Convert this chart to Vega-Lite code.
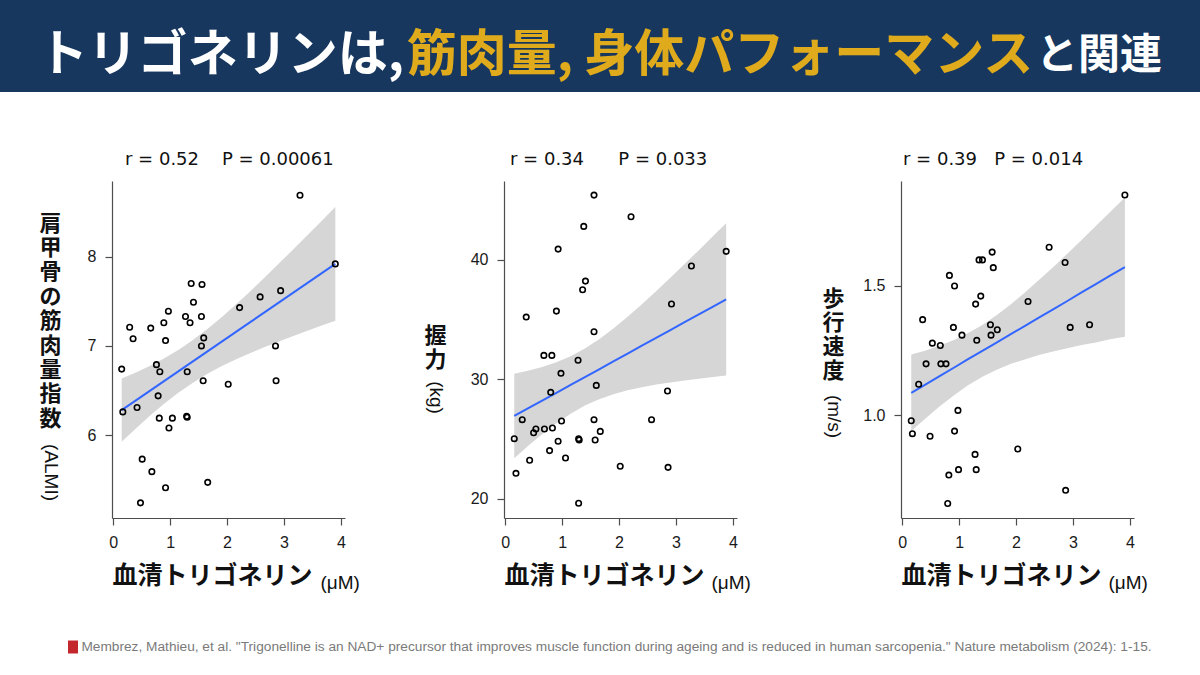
{
  "$schema": "https://vega.github.io/schema/vega-lite/v6.json",
  "padding": 0,
  "background": "white",
  "spacing": 59,
  "datasets": {
    "p1": [
      {"x": 0.15, "y": 6.74}, {"x": 0.17, "y": 6.26}, {"x": 0.29, "y": 7.21}, {"x": 0.35, "y": 7.08},
      {"x": 0.42, "y": 6.31}, {"x": 0.48, "y": 5.24}, {"x": 0.51, "y": 5.73}, {"x": 0.66, "y": 7.2},
      {"x": 0.68, "y": 5.59}, {"x": 0.76, "y": 6.79}, {"x": 0.79, "y": 6.44}, {"x": 0.81, "y": 6.19},
      {"x": 0.82, "y": 6.71}, {"x": 0.89, "y": 7.26}, {"x": 0.92, "y": 7.06}, {"x": 0.92, "y": 5.41},
      {"x": 0.97, "y": 7.39}, {"x": 0.98, "y": 6.08}, {"x": 1.04, "y": 6.19}, {"x": 1.27, "y": 7.33},
      {"x": 1.29, "y": 6.21}, {"x": 1.3, "y": 6.2}, {"x": 1.3, "y": 6.71}, {"x": 1.35, "y": 7.26},
      {"x": 1.37, "y": 7.7}, {"x": 1.41, "y": 7.49}, {"x": 1.55, "y": 7.33}, {"x": 1.55, "y": 7.0},
      {"x": 1.56, "y": 7.69}, {"x": 1.58, "y": 6.61}, {"x": 1.59, "y": 7.09}, {"x": 1.66, "y": 5.47},
      {"x": 2.02, "y": 6.57}, {"x": 2.22, "y": 7.43}, {"x": 2.58, "y": 7.55}, {"x": 2.85, "y": 7.0},
      {"x": 2.86, "y": 6.61}, {"x": 2.94, "y": 7.62}, {"x": 3.28, "y": 8.69}, {"x": 3.9, "y": 7.92}
    ],
    "p2": [
      {"x": 0.16, "y": 25.02}, {"x": 0.19, "y": 22.12}, {"x": 0.3, "y": 26.61}, {"x": 0.37, "y": 35.2},
      {"x": 0.43, "y": 23.21}, {"x": 0.5, "y": 25.52}, {"x": 0.54, "y": 25.83}, {"x": 0.68, "y": 31.99},
      {"x": 0.69, "y": 25.83}, {"x": 0.78, "y": 24.02}, {"x": 0.8, "y": 28.9}, {"x": 0.82, "y": 31.99},
      {"x": 0.83, "y": 25.91}, {"x": 0.9, "y": 35.7}, {"x": 0.93, "y": 40.89}, {"x": 0.93, "y": 24.8},
      {"x": 0.98, "y": 30.49}, {"x": 0.99, "y": 26.5}, {"x": 1.06, "y": 23.4}, {"x": 1.28, "y": 31.58},
      {"x": 1.29, "y": 25.02}, {"x": 1.3, "y": 24.91}, {"x": 1.29, "y": 19.61}, {"x": 1.36, "y": 37.49},
      {"x": 1.38, "y": 42.79}, {"x": 1.41, "y": 38.21}, {"x": 1.56, "y": 45.41}, {"x": 1.56, "y": 33.97},
      {"x": 1.56, "y": 26.61}, {"x": 1.58, "y": 24.91}, {"x": 1.6, "y": 29.48}, {"x": 1.67, "y": 25.63},
      {"x": 2.02, "y": 22.71}, {"x": 2.21, "y": 43.6}, {"x": 2.57, "y": 26.61}, {"x": 2.85, "y": 29.01},
      {"x": 2.86, "y": 22.62}, {"x": 2.92, "y": 36.29}, {"x": 3.27, "y": 39.47}, {"x": 3.88, "y": 40.7}
    ],
    "p3": [
      {"x": 0.16, "y": 0.978}, {"x": 0.18, "y": 0.928}, {"x": 0.29, "y": 1.119}, {"x": 0.36, "y": 1.369},
      {"x": 0.42, "y": 1.198}, {"x": 0.49, "y": 0.918}, {"x": 0.53, "y": 1.278}, {"x": 0.67, "y": 1.269},
      {"x": 0.68, "y": 1.198}, {"x": 0.77, "y": 1.198}, {"x": 0.8, "y": 0.658}, {"x": 0.82, "y": 0.768},
      {"x": 0.83, "y": 1.54}, {"x": 0.9, "y": 1.339}, {"x": 0.92, "y": 1.499}, {"x": 0.92, "y": 0.938},
      {"x": 0.98, "y": 1.018}, {"x": 0.99, "y": 0.789}, {"x": 1.05, "y": 1.309}, {"x": 1.28, "y": 0.848},
      {"x": 1.29, "y": 1.429}, {"x": 1.3, "y": 0.789}, {"x": 1.31, "y": 1.289}, {"x": 1.35, "y": 1.6},
      {"x": 1.38, "y": 1.46}, {"x": 1.41, "y": 1.6}, {"x": 1.55, "y": 1.349}, {"x": 1.56, "y": 1.309},
      {"x": 1.58, "y": 1.63}, {"x": 1.6, "y": 1.57}, {"x": 1.67, "y": 1.33}, {"x": 2.03, "y": 0.869},
      {"x": 2.21, "y": 1.439}, {"x": 2.58, "y": 1.649}, {"x": 2.86, "y": 1.59}, {"x": 2.87, "y": 0.709},
      {"x": 2.95, "y": 1.339}, {"x": 3.29, "y": 1.349}, {"x": 3.91, "y": 1.851}
    ],
    "b1": [
      {"x": 0.15, "fit": 6.28, "lo": 5.926, "hi": 6.634}, {"x": 0.4, "fit": 6.389, "lo": 6.075, "hi": 6.703},
      {"x": 0.65, "fit": 6.499, "lo": 6.219, "hi": 6.779}, {"x": 0.9, "fit": 6.608, "lo": 6.354, "hi": 6.862},
      {"x": 1.15, "fit": 6.717, "lo": 6.477, "hi": 6.957}, {"x": 1.4, "fit": 6.827, "lo": 6.588, "hi": 7.066},
      {"x": 1.65, "fit": 6.936, "lo": 6.686, "hi": 7.187}, {"x": 1.9, "fit": 7.045, "lo": 6.771, "hi": 7.319},
      {"x": 2.15, "fit": 7.155, "lo": 6.849, "hi": 7.461}, {"x": 2.4, "fit": 7.264, "lo": 6.919, "hi": 7.609},
      {"x": 2.65, "fit": 7.373, "lo": 6.984, "hi": 7.762}, {"x": 2.9, "fit": 7.483, "lo": 7.048, "hi": 7.918},
      {"x": 3.15, "fit": 7.592, "lo": 7.108, "hi": 8.076}, {"x": 3.4, "fit": 7.701, "lo": 7.167, "hi": 8.235},
      {"x": 3.65, "fit": 7.811, "lo": 7.225, "hi": 8.397}, {"x": 3.9, "fit": 7.92, "lo": 7.282, "hi": 8.558}
    ],
    "b2": [
      {"x": 0.16, "fit": 26.92, "lo": 23.38, "hi": 30.46}, {"x": 0.4, "fit": 27.55, "lo": 24.4, "hi": 30.7},
      {"x": 0.65, "fit": 28.21, "lo": 25.4, "hi": 31.02}, {"x": 0.9, "fit": 28.86, "lo": 26.31, "hi": 31.41},
      {"x": 1.15, "fit": 29.52, "lo": 27.11, "hi": 31.93}, {"x": 1.4, "fit": 30.18, "lo": 27.79, "hi": 32.57},
      {"x": 1.65, "fit": 30.83, "lo": 28.32, "hi": 33.35}, {"x": 1.9, "fit": 31.49, "lo": 28.74, "hi": 34.24},
      {"x": 2.15, "fit": 32.15, "lo": 29.07, "hi": 35.23}, {"x": 2.4, "fit": 32.8, "lo": 29.33, "hi": 36.27},
      {"x": 2.65, "fit": 33.46, "lo": 29.55, "hi": 37.37}, {"x": 2.9, "fit": 34.11, "lo": 29.73, "hi": 38.49},
      {"x": 3.15, "fit": 34.77, "lo": 29.9, "hi": 39.64}, {"x": 3.4, "fit": 35.42, "lo": 30.04, "hi": 40.8},
      {"x": 3.65, "fit": 36.08, "lo": 30.18, "hi": 41.98}, {"x": 3.88, "fit": 36.68, "lo": 30.3, "hi": 43.06}
    ],
    "b3": [
      {"x": 0.16, "fit": 1.086, "lo": 0.938, "hi": 1.234}, {"x": 0.4, "fit": 1.117, "lo": 0.985, "hi": 1.249},
      {"x": 0.65, "fit": 1.15, "lo": 1.032, "hi": 1.268}, {"x": 0.9, "fit": 1.182, "lo": 1.075, "hi": 1.289},
      {"x": 1.15, "fit": 1.215, "lo": 1.114, "hi": 1.316}, {"x": 1.4, "fit": 1.247, "lo": 1.147, "hi": 1.347},
      {"x": 1.65, "fit": 1.279, "lo": 1.174, "hi": 1.385}, {"x": 1.9, "fit": 1.312, "lo": 1.197, "hi": 1.427},
      {"x": 2.15, "fit": 1.344, "lo": 1.215, "hi": 1.473}, {"x": 2.4, "fit": 1.377, "lo": 1.232, "hi": 1.522},
      {"x": 2.65, "fit": 1.409, "lo": 1.246, "hi": 1.572}, {"x": 2.9, "fit": 1.441, "lo": 1.258, "hi": 1.624},
      {"x": 3.15, "fit": 1.474, "lo": 1.271, "hi": 1.677}, {"x": 3.4, "fit": 1.506, "lo": 1.281, "hi": 1.731},
      {"x": 3.65, "fit": 1.539, "lo": 1.293, "hi": 1.785}, {"x": 3.91, "fit": 1.572, "lo": 1.303, "hi": 1.841}
    ]
  },
  "vconcat": [
    {
      "spacing": 0,
      "vconcat": [
        {"width": 1200, "height": 20, "view": {"fill": "#17375e"}, "data": {"values": [{}]}, "mark": {"type": "text", "text": ""}},
        {
          "spacing": 0,
          "bounds": "flush",
          "hconcat": [
            {"width": 38, "height": 72, "view": {"fill": "#17375e"}, "data": {"values": [{}]}, "mark": {"type": "text", "text": ""}},
            {"width": 366, "height": 72, "view": {"fill": "#17375e"}, "data": {"values": [{"t": "トリゴネリンは,"}]},
             "mark": {"type": "text", "font": "Noto Sans CJK JP", "fontWeight": "bold", "fontSize": 50, "color": "#ffffff"},
             "encoding": {"text": {"field": "t"}}},
            {"width": 632, "height": 72, "view": {"fill": "#17375e"}, "data": {"values": [{"t": "筋肉量, 身体パフォーマンス"}]},
             "mark": {"type": "text", "font": "Noto Sans CJK JP", "fontWeight": "bold", "fontSize": 50, "color": "#dfab1c"},
             "encoding": {"text": {"field": "t"}}},
            {"width": 126, "height": 72, "view": {"fill": "#17375e"}, "data": {"values": [{"t": "と関連"}]},
             "mark": {"type": "text", "font": "Noto Sans CJK JP", "fontWeight": "bold", "fontSize": 42, "color": "#ffffff"},
             "encoding": {"text": {"field": "t"}}},
            {"width": 38, "height": 72, "view": {"fill": "#17375e"}, "data": {"values": [{}]}, "mark": {"type": "text", "text": ""}}
          ]
        }
      ]
    },
    {
      "spacing": 45,
      "vconcat": [
        {
          "spacing": 0,
          "bounds": "flush",
          "hconcat": [
            {"width": 112, "height": 337, "data": {"values": [{}]}, "mark": {"type": "text", "text": ""}},
            {
              "width": 233, "height": 337,
              "title": {"text": "r = 0.52\u00a0\u00a0\u00a0\u00a0P = 0.00061", "dx": 13},
              "resolve": {"axis": {"x": "independent", "y": "independent"}},
              "layer": [
                {"data": {"name": "b1"}, "mark": {"type": "area", "color": "#d6d6d6"},
                 "encoding": {
                   "x": {"field": "x", "type": "quantitative", "scale": {"domain": [-0.02, 4.07], "nice": false, "zero": false},
                         "axis": {"values": [0, 1, 2, 3, 4], "title": "血清トリゴネリン", "titleFont": "Noto Sans CJK JP", "titleFontSize": 25, "titleFontWeight": "bold", "titleAnchor": "start", "titleAlign": "left", "titlePadding": 13}},
                   "y": {"field": "lo", "type": "quantitative", "scale": {"domain": [5.07, 8.85], "nice": false, "zero": false},
                         "axis": {"values": [6, 7, 8], "format": "d", "title": ["肩", "甲", "骨", "の", "筋", "肉", "量", "指", "数"], "titleAngle": 0, "titleAlign": "center", "titleBaseline": "top", "titleX": -62, "titleY": 32, "titleLineHeight": 24.4, "titleFont": "Noto Sans CJK JP", "titleFontSize": 22, "titleFontWeight": "bold"}},
                   "y2": {"field": "hi"}
                 }},
                {"data": {"name": "b1"}, "mark": {"type": "line", "color": "#3366ff", "strokeWidth": 2},
                 "encoding": {
                   "x": {"field": "x", "type": "quantitative",
                         "axis": {"orient": "bottom", "title": "(μM)", "titleX": 208, "titleY": 64, "titleAlign": "left", "titleBaseline": "middle", "titleFont": "Liberation Sans", "titleFontSize": 19, "titleFontWeight": "normal", "labels": false, "ticks": false, "domain": false}},
                   "y": {"field": "fit", "type": "quantitative",
                         "axis": {"orient": "left", "title": "(ALMI)", "titleAngle": 90, "titleX": -62, "titleY": 291, "titleAlign": "center", "titleBaseline": "middle", "titleFont": "Liberation Sans", "titleFontSize": 19, "titleFontWeight": "normal", "labels": false, "ticks": false, "domain": false}}
                 }},
                {"data": {"name": "p1"}, "mark": {"type": "point", "shape": "circle", "filled": false, "color": "#000000", "size": 30, "strokeWidth": 1.6, "opacity": 1},
                 "encoding": {
                   "x": {"field": "x", "type": "quantitative", "axis": null},
                   "y": {"field": "y", "type": "quantitative", "axis": null}
                 }}
              ]
            },
            {"width": 159, "height": 337, "data": {"values": [{}]}, "mark": {"type": "text", "text": ""}},
            {
              "width": 233, "height": 337,
              "title": {"text": "r = 0.34\u00a0\u00a0\u00a0\u00a0\u00a0\u00a0P = 0.033", "dx": 6},
              "resolve": {"axis": {"x": "independent", "y": "independent"}},
              "layer": [
                {"data": {"name": "b2"}, "mark": {"type": "area", "color": "#d6d6d6"},
                 "encoding": {
                   "x": {"field": "x", "type": "quantitative", "scale": {"domain": [-0.02, 4.07], "nice": false, "zero": false},
                         "axis": {"values": [0, 1, 2, 3, 4], "title": "血清トリゴネリン", "titleFont": "Noto Sans CJK JP", "titleFontSize": 25, "titleFontWeight": "bold", "titleAnchor": "start", "titleAlign": "left", "titlePadding": 13}},
                   "y": {"field": "lo", "type": "quantitative", "scale": {"domain": [18.38, 46.59], "nice": false, "zero": false},
                         "axis": {"values": [20, 30, 40], "format": "d", "title": ["握", "力"], "titleAngle": 0, "titleAlign": "center", "titleBaseline": "top", "titleX": -69, "titleY": 144, "titleLineHeight": 24.2, "titleFont": "Noto Sans CJK JP", "titleFontSize": 22, "titleFontWeight": "bold"}},
                   "y2": {"field": "hi"}
                 }},
                {"data": {"name": "b2"}, "mark": {"type": "line", "color": "#3366ff", "strokeWidth": 2},
                 "encoding": {
                   "x": {"field": "x", "type": "quantitative",
                         "axis": {"orient": "bottom", "title": "(μM)", "titleX": 207, "titleY": 64, "titleAlign": "left", "titleBaseline": "middle", "titleFont": "Liberation Sans", "titleFontSize": 19, "titleFontWeight": "normal", "labels": false, "ticks": false, "domain": false}},
                   "y": {"field": "fit", "type": "quantitative",
                         "axis": {"orient": "left", "title": "(kg)", "titleAngle": 90, "titleX": -69, "titleY": 216, "titleAlign": "center", "titleBaseline": "middle", "titleFont": "Liberation Sans", "titleFontSize": 19, "titleFontWeight": "normal", "labels": false, "ticks": false, "domain": false}}
                 }},
                {"data": {"name": "p2"}, "mark": {"type": "point", "shape": "circle", "filled": false, "color": "#000000", "size": 30, "strokeWidth": 1.6, "opacity": 1},
                 "encoding": {
                   "x": {"field": "x", "type": "quantitative", "axis": null},
                   "y": {"field": "y", "type": "quantitative", "axis": null}
                 }}
              ]
            },
            {"width": 164, "height": 337, "data": {"values": [{}]}, "mark": {"type": "text", "text": ""}},
            {
              "width": 233, "height": 337,
              "title": {"text": "r = 0.39\u00a0\u00a0\u00a0P = 0.014", "dx": 2},
              "resolve": {"axis": {"x": "independent", "y": "independent"}},
              "layer": [
                {"data": {"name": "b3"}, "mark": {"type": "area", "color": "#d6d6d6"},
                 "encoding": {
                   "x": {"field": "x", "type": "quantitative", "scale": {"domain": [-0.02, 4.07], "nice": false, "zero": false},
                         "axis": {"values": [0, 1, 2, 3, 4], "title": "血清トリゴネリン", "titleFont": "Noto Sans CJK JP", "titleFontSize": 25, "titleFontWeight": "bold", "titleAnchor": "start", "titleAlign": "left", "titlePadding": 13}},
                   "y": {"field": "lo", "type": "quantitative", "scale": {"domain": [0.602, 1.905], "nice": false, "zero": false},
                         "axis": {"values": [1.0, 1.5], "format": ".1f", "title": ["歩", "行", "速", "度"], "titleAngle": 0, "titleAlign": "center", "titleBaseline": "top", "titleX": -68, "titleY": 107, "titleLineHeight": 24.2, "titleFont": "Noto Sans CJK JP", "titleFontSize": 22, "titleFontWeight": "bold"}},
                   "y2": {"field": "hi"}
                 }},
                {"data": {"name": "b3"}, "mark": {"type": "line", "color": "#3366ff", "strokeWidth": 2},
                 "encoding": {
                   "x": {"field": "x", "type": "quantitative",
                         "axis": {"orient": "bottom", "title": "(μM)", "titleX": 207, "titleY": 64, "titleAlign": "left", "titleBaseline": "middle", "titleFont": "Liberation Sans", "titleFontSize": 19, "titleFontWeight": "normal", "labels": false, "ticks": false, "domain": false}},
                   "y": {"field": "fit", "type": "quantitative",
                         "axis": {"orient": "left", "title": "(m/s)", "titleAngle": 90, "titleX": -68, "titleY": 235, "titleAlign": "center", "titleBaseline": "middle", "titleFont": "Liberation Sans", "titleFontSize": 19, "titleFontWeight": "normal", "labels": false, "ticks": false, "domain": false}}
                 }},
                {"data": {"name": "p3"}, "mark": {"type": "point", "shape": "circle", "filled": false, "color": "#000000", "size": 30, "strokeWidth": 1.6, "opacity": 1},
                 "encoding": {
                   "x": {"field": "x", "type": "quantitative", "axis": null},
                   "y": {"field": "y", "type": "quantitative", "axis": null}
                 }}
              ]
            }
          ]
        },
        {
          "spacing": 0,
          "bounds": "flush",
          "center": true,
          "hconcat": [
            {"width": 68, "height": 20, "data": {"values": [{}]}, "mark": {"type": "text", "text": ""}},
            {"width": 10, "height": 13, "data": {"values": [{}]}, "mark": {"type": "rect", "color": "#c4262e"}},
            {"width": 1, "height": 20, "data": {"values": [{}]}, "mark": {"type": "text", "text": ""}},
            {"width": 1075, "height": 20,
             "data": {"values": [{"t": "Membrez, Mathieu, et al. \"Trigonelline is an NAD+ precursor that improves muscle function during ageing and is reduced in human sarcopenia.\" Nature metabolism (2024): 1-15."}]},
             "mark": {"type": "text", "font": "Liberation Sans", "fontSize": 13.7, "color": "#7a7a7a"},
             "encoding": {"text": {"field": "t"}}}
          ]
        }
      ]
    }
  ],
  "config": {
    "view": {"stroke": null},
    "font": "Liberation Sans",
    "title": {"anchor": "start", "frame": "group", "font": "DejaVu Sans", "fontSize": 18, "fontWeight": "normal", "color": "#111111", "baseline": "alphabetic", "offset": 12},
    "axis": {
      "grid": false,
      "labelFont": "Liberation Sans",
      "labelFontSize": 16,
      "labelColor": "#1a1a1a",
      "domainColor": "#4d4d4d",
      "domainWidth": 1.2,
      "tickColor": "#4d4d4d",
      "tickWidth": 1.2,
      "tickSize": 7,
      "labelPadding": 9,
      "titleColor": "#111111"
    }
  }
}
